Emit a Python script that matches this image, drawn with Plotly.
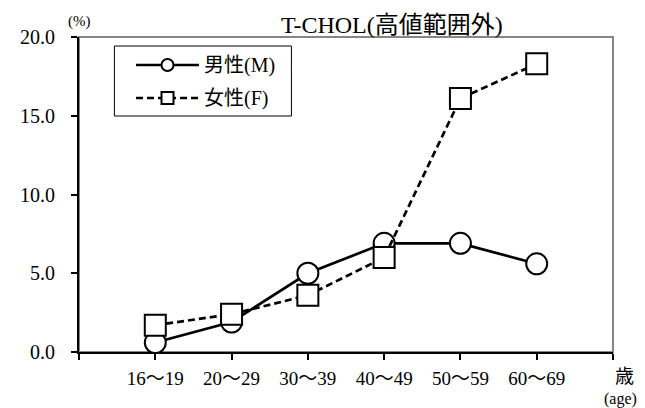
import plotly.graph_objects as go

categories = ["16～19", "20～29", "30～39", "40～49", "50～59", "60～69"]
male = [0.6, 1.9, 5.0, 6.9, 6.9, 5.6]
female = [1.7, 2.4, 3.6, 6.0, 16.1, 18.3]
male_name = "男性(M)"
female_name = "女性(F)"
title_text = "T-CHOL(高値範囲外)"
y_ticks = [0, 5, 10, 15, 20]

FONT = "Liberation Serif, 'Noto Sans CJK JP', serif"
DASH = "7px,4px"

x_idx = list(range(len(categories)))

fig = go.Figure()
fig.add_trace(go.Scatter(
    x=x_idx, y=male, name=male_name, mode="lines+markers",
    line=dict(color="black", width=2.7),
    marker=dict(symbol="circle", size=21, color="white", line=dict(color="black", width=2)),
    showlegend=False,
))
fig.add_trace(go.Scatter(
    x=x_idx, y=female, name=female_name, mode="lines+markers",
    line=dict(color="black", width=2.7, dash=DASH),
    marker=dict(symbol="square", size=21, color="white", line=dict(color="black", width=2)),
    showlegend=False,
))

# page offset (body margin 8px) compensated in figure size/margins
W, H = 637, 400
ML, MT, MR, MB = 62, 29, 32, 56
PW, PH = W - ML - MR, H - MT - MB


def px(xp):
    return (xp - 8 - ML) / PW


def py(yp):
    return 1 - (yp - 8 - MT) / PH


shapes = [
    dict(type="rect", xref="paper", yref="paper", x0=0, x1=1, y0=0, y1=1,
         line=dict(color="#868686", width=2), layer="below"),
    # legend box
    dict(type="rect", xref="paper", yref="paper", x0=px(106), x1=px(286), y0=py(116), y1=py(46),
         line=dict(color="black", width=1), fillcolor="white", layer="above"),
    dict(type="line", xref="paper", yref="paper", x0=px(128), x1=px(192), y0=py(65), y1=py(65),
         line=dict(color="black", width=2.7), layer="above"),
    dict(type="line", xref="paper", yref="paper", x0=px(128), x1=px(192), y0=py(98), y1=py(98),
         line=dict(color="black", width=2.7, dash=DASH), layer="above"),
    dict(type="circle", xref="paper", yref="paper", xsizemode="pixel", ysizemode="pixel",
         xanchor=px(160), yanchor=py(65), x0=-6, x1=6, y0=-6, y1=6,
         line=dict(color="black", width=2), fillcolor="white", layer="above"),
    dict(type="rect", xref="paper", yref="paper", xsizemode="pixel", ysizemode="pixel",
         xanchor=px(160), yanchor=py(98), x0=-6, x1=6, y0=-6, y1=6,
         line=dict(color="black", width=2), fillcolor="white", layer="above"),
]

annotations = [
    dict(text=title_text, xref="paper", yref="paper", x=px(388), y=py(25),
         showarrow=False, font=dict(size=24), xanchor="center", yanchor="middle"),
    dict(text="(%)", xref="paper", yref="paper", x=px(71), y=py(22),
         showarrow=False, font=dict(size=15), xanchor="center", yanchor="middle"),
    dict(text="歳", xref="paper", yref="paper", x=px(625), y=py(376),
         showarrow=False, font=dict(size=19), xanchor="center", yanchor="middle"),
    dict(text="(age)", xref="paper", yref="paper", x=px(621), y=py(399),
         showarrow=False, font=dict(size=16), xanchor="center", yanchor="middle"),
    dict(text=male_name, xref="paper", yref="paper", x=px(195), y=py(65),
         showarrow=False, font=dict(size=20), xanchor="left", yanchor="middle"),
    dict(text=female_name, xref="paper", yref="paper", x=px(195), y=py(98),
         showarrow=False, font=dict(size=20), xanchor="left", yanchor="middle"),
]

fig.update_layout(
    width=W, height=H,
    margin=dict(l=ML, r=MR, t=MT, b=MB),
    paper_bgcolor="white", plot_bgcolor="white",
    font=dict(family=FONT, size=18, color="black"),
    showlegend=False,
    xaxis=dict(
        range=[-1, 6], tickmode="array",
        tickvals=[-1] + x_idx + [6], ticktext=[""] + categories + [""],
        showline=True, linecolor="black", linewidth=2,
        ticks="outside", ticklen=6, tickwidth=1.5, tickcolor="black",
        showgrid=False, zeroline=False, ticklabelstandoff=2,
        tickfont=dict(size=19),
    ),
    yaxis=dict(
        range=[0, 20], tickmode="array", tickvals=y_ticks,
        ticktext=[f"{v:.1f}" for v in y_ticks],
        showline=True, linecolor="black", linewidth=2,
        ticks="outside", ticklen=6, tickwidth=1.5, tickcolor="black",
        showgrid=False, zeroline=False, ticklabelstandoff=12,
        tickfont=dict(size=20),
    ),
    shapes=shapes,
    annotations=annotations,
)

fig.write_html("out.html")
